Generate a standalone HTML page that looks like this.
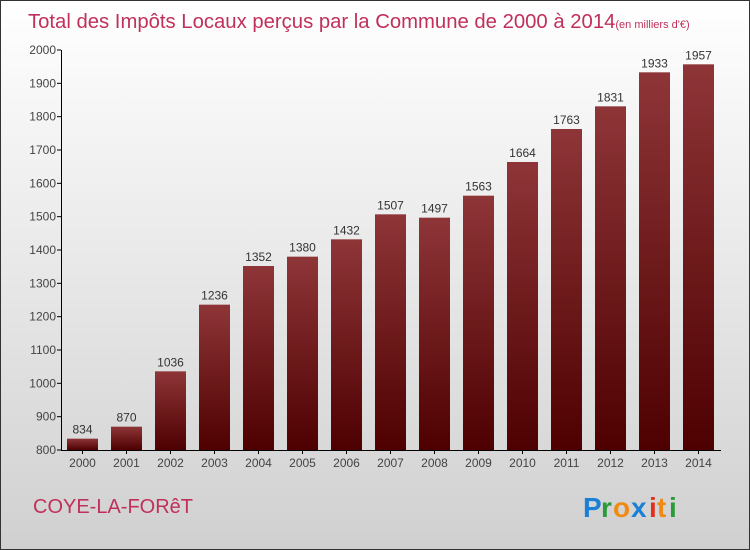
<!DOCTYPE html>
<html><head><meta charset="utf-8"><style>
body{margin:0}
#wrap{position:relative;width:748px;height:548px;border:1px solid #333;background:linear-gradient(#ffffff,#d0d0d0);font-family:"Liberation Sans",sans-serif;overflow:hidden}
</style></head><body>
<div id="wrap">
<svg id="chart" width="748" height="548">
<defs><linearGradient id="bg" x1="0" y1="0" x2="0" y2="1"><stop offset="0" stop-color="#8e3538"/><stop offset="1" stop-color="#4e0000"/></linearGradient></defs>
<text x="27" y="27" font-size="20.3" fill="#c0305a">Total des Impôts Locaux perçus par la Commune de 2000 à 2014<tspan font-size="11">(en milliers d'€)</tspan></text>
<g id="plot"></g>
<text x="32" y="512" font-size="20" fill="#c0305a">COYE-LA-FORêT</text>
<g font-size="28" font-weight="bold" font-family="'Liberation Sans',sans-serif">
<text x="582" y="516" fill="#1a7fd6">P</text><text x="600" y="516" fill="#2a9a3a">r</text><text x="612" y="516" fill="#f08a10">o</text><text x="630" y="516" fill="#1a7fd6">x</text><text x="648" y="516" fill="#e03020">i</text><text x="656" y="516" fill="#f08a10">t</text><text x="668" y="516" fill="#2a9a3a">i</text>
</g>
</svg>
</div>
<script>
const years=["2000","2001","2002","2003","2004","2005","2006","2007","2008","2009","2010","2011","2012","2013","2014"];
const values=[834,870,1036,1236,1352,1380,1432,1507,1497,1563,1664,1763,1831,1933,1957];
const yTicks=[800,900,1000,1100,1200,1300,1400,1500,1600,1700,1800,1900,2000];
const NS="http://www.w3.org/2000/svg";
const g=document.getElementById('plot');
const y=v=>449-(v-800)*400/1200;
const xc=i=>81.5+44*i;
function mk(t,a){const e=document.createElementNS(NS,t);for(const k in a)e.setAttribute(k,a[k]);g.appendChild(e);return e;}
yTicks.forEach(v=>{
 const l=mk('line',{x1:56,x2:60,y1:y(v),y2:y(v),stroke:'#000'});
 
 
 const t=mk('text',{x:55,y:y(v)+4,'text-anchor':'end','font-size':12,fill:'#444'});
 t.textContent=v;
 
 
});
values.forEach((v,i)=>{
 const r=mk('rect',{x:xc(i)-15.5,y:y(v),width:31,height:449-y(v),fill:'url(#bg)'});
 
 
 const t=mk('text',{x:xc(i),y:y(v)-5,'text-anchor':'middle','font-size':12,fill:'#333'});
 t.textContent=v;
 
 
 const tk=mk('line',{x1:xc(i),x2:xc(i),y1:449,y2:453,stroke:'#000'});
 
 
 const xl=mk('text',{x:xc(i),y:466,'text-anchor':'middle','font-size':12,fill:'#444'});
 xl.textContent=years[i];
 
 
});
const ya=mk('line',{x1:60.5,x2:60.5,y1:y(2000),y2:449.5,stroke:'#000'});


const xa=mk('line',{x1:60,x2:720,y1:449.5,y2:449.5,stroke:'#000'});


</script>
</body></html>
